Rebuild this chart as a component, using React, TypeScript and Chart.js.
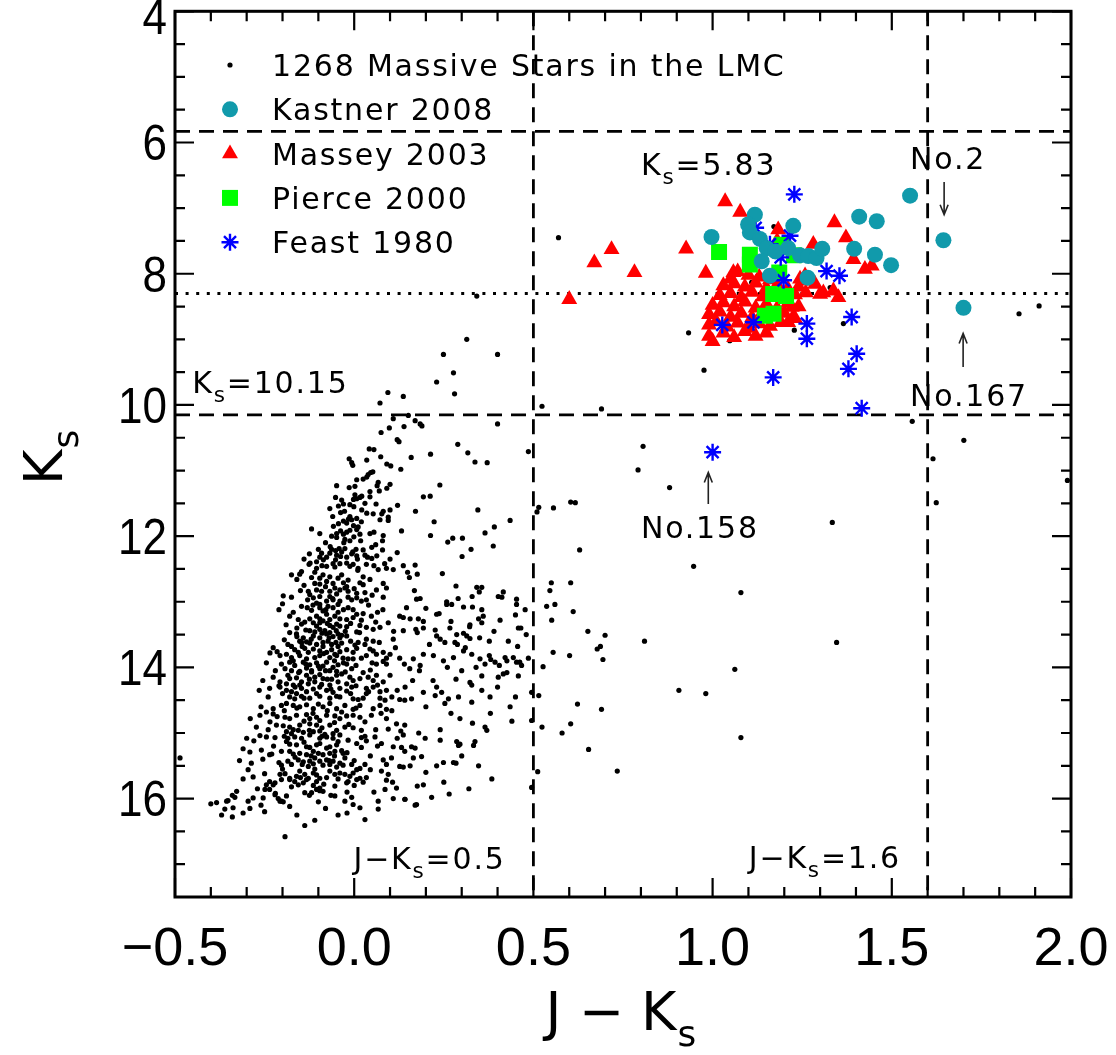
import React, { useEffect, useRef } from 'react';
import { Chart, registerables } from 'chart.js';
import { drawPoint } from 'chart.js/helpers';

Chart.register(...registerables);

// ---------- axes ----------
const X_MIN = -0.5;
const X_MAX = 2.0;
const Y_MIN = 4;
const Y_MAX = 17.5;
const X_TICKS = [-0.5, 0.0, 0.5, 1.0, 1.5, 2.0];
const Y_TICKS = [4, 6, 8, 10, 12, 14, 16];
const X_MINOR_STEP = 0.1;
const Y_MINOR_STEP = 0.5;

// ---------- reference lines ----------
const KS_LIMITS = [5.83, 10.15];
const JK_LIMITS = [0.5, 1.6];
const KS_DOTTED = 8.3;

// ---------- 1268 massive stars (black dots), read region by region ----------
const starsUpper: number[][] = [
  [0.57,7.45],[0.342,8.34],[1.171,7.28],[1.109,8.13],[1.286,8.12],[1.328,8.21],[1.365,8.76],
  [0.933,8.90],[1.048,9.02],[1.228,8.86],[0.976,9.47],[1.855,8.61],[1.911,8.49],
  [0.314,9.0],[0.249,9.23],[0.40,9.23],[0.277,9.51],[0.23,9.65],[0.28,9.83],[0.094,9.81],[0.137,9.87],[0.072,9.97],
  [0.524,10.02],[0.690,10.06],[1.557,10.25],
  [0.151,10.16],[0.109,10.21],[0.17,10.24],[0.184,10.29],[0.189,10.32],[0.139,10.33],[0.098,10.35],[0.075,10.42],[0.40,10.29],
  [0.289,10.60],[0.486,10.71],[0.317,10.73],[0.213,10.75],[0.159,10.80],[0.337,10.87],[0.371,10.88],
  [0.806,10.63],[0.792,10.99],[0.88,11.26],[1.615,10.82],[1.624,11.49],[1.701,10.54],[1.99,11.15],[1.334,11.79],
  [0.239,11.22],[0.193,11.40],[0.212,11.39],[0.171,11.62],[0.223,11.78],[0.345,11.60],[0.435,11.76],
  [0.515,11.56],[0.51,11.63],[0.556,11.57],[0.604,11.48],[0.617,11.49],
  [0.391,11.86],[0.365,11.95],[0.213,11.99],[0.275,12.03],[0.302,12.03],[0.261,12.09],[0.388,12.15],[0.326,12.20],[0.301,12.31],[0.629,12.21],[0.947,12.46],
  [0.17,12.44],[0.154,12.63],[0.149,12.55],[0.176,12.58],[0.246,12.57],[0.284,12.76],[0.342,12.78],[0.356,12.78],[0.349,12.85],[0.416,12.85],[0.402,12.92],[0.412,12.93],[0.453,12.96],
  [0.55,12.71],[0.546,12.83],[0.604,12.71],[1.079,12.86],[0.329,12.92],[0.29,12.95],[0.258,13.0],[0.174,12.96],[0.184,12.95],[0.168,12.83],
];

const starsTip: number[][] = [
  [0.12,10.53],[0.125,10.56],[0.042,10.67],[0.055,10.68],[-0.014,10.82],[-0.007,10.88],[-0.004,10.92],[0.035,10.84],[0.074,10.79],[0.091,10.90],[0.102,10.93],[0.13,10.98],
  [0.039,11.06],[0.046,11.03],[0.052,11.02],[0.035,11.10],[0.007,11.14],[0.025,11.13],[0.067,11.18],[0.064,11.23],[0.10,11.21],[0.091,11.27],[-0.049,11.23],[-0.014,11.26],[0.002,11.24],
  [0.044,11.32],[0.07,11.31],[0.002,11.37],[0.016,11.41],[0.021,11.39],[-0.052,11.41],[0.044,11.40],[-0.002,11.44],[0.007,11.43],[0.03,11.50],[0.061,11.51],[-0.044,11.54],[-0.03,11.51],
  [-0.012,11.52],[-0.001,11.55],[-0.068,11.58],[0.021,11.60],[0.035,11.65],[0.053,11.66],[0.081,11.62],[0.077,11.66],[0.121,11.53],[-0.038,11.64],[-0.027,11.62],[-0.012,11.70],[-0.016,11.74],
  [-0.007,11.75],[0.007,11.73],[0.072,11.75],[0.095,11.71],[0.095,11.76],[-0.03,11.77],[-0.021,11.80],[-0.058,11.85],[-0.044,11.81],[-0.002,11.84],[0.011,11.86],[0.007,11.90],[-0.012,11.91],
  [-0.021,11.94],[-0.038,11.92],[-0.049,11.96],[-0.03,11.97],[-0.119,11.89],[-0.096,11.96],[0.016,11.97],[0.044,11.96],[0.055,11.94],[0.081,11.99],[0.132,11.92],[-0.063,12.0],[-0.049,12.02],
  [-0.026,12.05],[-0.029,12.10],[-0.012,12.07],[-0.001,12.01],[0.018,12.07],[0.079,12.07],[-0.067,12.16],[-0.063,12.20],[-0.052,12.22],[-0.042,12.19],[-0.035,12.24],[-0.026,12.19],[0.005,12.20],
  [-0.004,12.24],[0.025,12.21],[0.049,12.17],[0.079,12.21],[-0.125,12.27],[-0.091,12.26],[-0.096,12.32],[-0.077,12.32],[-0.068,12.26],[-0.049,12.29],[-0.038,12.31],[-0.052,12.36],[-0.021,12.32],
  [-0.007,12.27],[0.007,12.30],[0.009,12.35],[0.03,12.29],[0.037,12.32],[0.049,12.34],[0.063,12.30],[-0.123,12.41],[-0.105,12.39],[-0.086,12.36],[0.137,12.45],
  [-0.147,12.54],[-0.105,12.49],[-0.126,12.43],[-0.077,12.46],[-0.059,12.42],[-0.054,12.47],[-0.040,12.42],[-0.021,12.41],[-0.012,12.46],[-0.003,12.43],[0.011,12.49],[0.034,12.43],[0.055,12.45],
  [0.067,12.51],[0.090,12.49],[0.109,12.51],
  [-0.08,12.10],[-0.10,12.20],[-0.09,12.45],[0.06,12.13],[0.10,12.35],[0.02,11.78],[-0.035,11.45],[0.10,11.60],[-0.06,11.70],[0.01,12.52],[0.085,12.42],[0.12,12.25],[-0.14,12.35],[-0.11,12.55],
];

const starsCore: number[][] = [
  [-0.175,12.59],[-0.152,12.58],[-0.119,12.63],[-0.096,12.64],[-0.087,12.59],[-0.068,12.62],[-0.045,12.64],[-0.035,12.59],[0.025,12.62],[0.044,12.66],[0.081,12.72],[0.09,12.79],[0.062,12.82],
  [-0.021,12.77],[-0.017,12.67],[0.016,12.71],[-0.11,12.72],[-0.096,12.73],[-0.077,12.69],[-0.059,12.72],[-0.054,12.79],[-0.04,12.82],[-0.026,12.79],[-0.017,12.84],[0.007,12.87],[0.025,12.74],
  [-0.128,12.84],[-0.105,12.82],[-0.091,12.84],[-0.068,12.84],[-0.049,12.88],[-0.198,12.91],[-0.175,12.93],[-0.124,12.89],[-0.114,12.94],[-0.096,12.92],[-0.068,12.92],[-0.059,12.97],[-0.04,12.99],
  [-0.017,12.93],[-0.007,12.97],[0.007,12.94],[0.02,12.99],[0.034,12.97],[0.081,12.93],[-0.077,12.99],[-0.105,13.02],[-0.096,13.04],[-0.045,13.04],
  [-0.147,13.07],[-0.131,13.09],[-0.119,13.13],[-0.096,13.09],[-0.087,13.14],[-0.079,13.12],[-0.073,13.07],[-0.059,13.09],[-0.045,13.16],[-0.017,13.09],[-0.003,13.12],[0.007,13.19],[0.025,13.18],
  [0.048,13.22],[0.127,13.22],[0.137,13.24],[0.146,13.09],[-0.18,13.22],[-0.156,13.27],[-0.138,13.31],[-0.124,13.26],[-0.105,13.22],[-0.096,13.26],[-0.077,13.19],[-0.068,13.27],[-0.054,13.22],
  [-0.04,13.26],[-0.021,13.27],[-0.003,13.24],
  [-0.147,13.34],[-0.114,13.32],[-0.105,13.37],[-0.096,13.32],[-0.087,13.29],[-0.068,13.36],[-0.059,13.39],[-0.049,13.34],[-0.04,13.37],[-0.021,13.38],[0.016,13.36],[0.034,13.39],[0.053,13.42],
  [0.072,13.39],[0.095,13.32],[-0.18,13.47],[-0.161,13.49],[-0.124,13.44],[-0.11,13.46],[-0.096,13.42],[-0.082,13.44],[-0.068,13.47],[-0.045,13.49],[-0.035,13.51],[0.007,13.46],[0.137,13.44],
  [-0.142,13.55],[-0.114,13.52],[-0.096,13.55],[-0.077,13.49],[-0.059,13.53],[-0.04,13.55],[-0.021,13.52],[0.034,13.57],[0.053,13.6],[0.109,13.57],[-0.152,13.6],[-0.147,13.62],[-0.133,13.61],
  [-0.124,13.63],[-0.105,13.65],[-0.087,13.62],[-0.073,13.6],[-0.063,13.65],[-0.051,13.62],[-0.035,13.63],[0.002,13.66],[0.011,13.62],[-0.226,13.70],[-0.185,13.65],[-0.175,13.68],
  [-0.166,13.73],[-0.156,13.77],[-0.138,13.71],[-0.128,13.77],[-0.114,13.72],[-0.096,13.75],[-0.087,13.68],[-0.077,13.77],[-0.063,13.73],[-0.054,13.8],[-0.04,13.76],[-0.021,13.73],[-0.003,13.77],
  [0.007,13.71],[0.044,13.72],[0.053,13.75],[0.062,13.8],[0.081,13.77],[0.1,13.8],[-0.207,13.82],[-0.189,13.8],[-0.175,13.85],[-0.152,13.82],[-0.133,13.87],[-0.11,13.85],[-0.096,13.82],
  [-0.068,13.85],[-0.049,13.82],[-0.031,13.86],[-0.017,13.87],[0.034,13.82],[0.127,13.86],
  [-0.203,13.95],[-0.193,14.02],[-0.18,13.92],[-0.166,13.97],[-0.142,13.92],[-0.124,13.96],[-0.105,13.93],[-0.087,13.98],[-0.077,13.92],[-0.059,14.0],[-0.045,13.96],[-0.021,13.95],[-0.007,14.02],
  [-0.003,13.87],[0.062,13.95],[0.081,13.91],[0.09,13.95],[0.155,14.02],[-0.175,14.05],[-0.152,14.06],[-0.133,14.01],[-0.119,14.05],[-0.096,14.02],[-0.068,14.05],[-0.049,14.06],
  [-0.226,14.15],[-0.207,14.22],[-0.18,14.17],[-0.161,14.16],[-0.147,14.22],[-0.133,14.12],[-0.119,14.07],[-0.11,14.15],[-0.096,14.11],[-0.087,14.17],[-0.063,14.18],[-0.049,14.12],[-0.035,14.1],
  [-0.012,14.15],[-0.003,14.2],[0.016,14.17],[0.025,14.08],[0.039,14.15],[0.053,14.2],[0.062,14.12],[0.081,14.22],[-0.189,14.25],[-0.17,14.27],[-0.152,14.27],[-0.128,14.25],[-0.11,14.22],
  [-0.091,14.26],[-0.068,14.27],[-0.045,14.22],[-0.021,14.25],
  [-0.236,14.32],[-0.207,14.30],[-0.189,14.35],[-0.175,14.37],[-0.161,14.4],[-0.147,14.32],[-0.133,14.37],[-0.114,14.33],[-0.096,14.3],[-0.077,14.35],[-0.059,14.38],[-0.04,14.32],[-0.021,14.36],
  [-0.007,14.3],[0.034,14.32],[0.053,14.3],[0.072,14.37],[0.09,14.35],[-0.18,14.45],[-0.166,14.48],[-0.147,14.44],[-0.124,14.47],[-0.096,14.44],[-0.068,14.47],[-0.049,14.44],[-0.003,14.48],
  [0.011,14.49],[0.034,14.4],[0.072,14.47],[0.086,14.5],[0.127,14.49],[0.141,14.5],
  [-0.226,14.63],[-0.203,14.58],[-0.189,14.55],[-0.17,14.58],[-0.152,14.6],[-0.133,14.57],[-0.114,14.63],[-0.087,14.6],[-0.068,14.55],[-0.049,14.63],[-0.026,14.58],[-0.003,14.64],[0.016,14.58],
  [0.053,14.63],[0.072,14.58],[0.09,14.64],
];

// further stars filling the densest part of the main sequence cloud
const starsCoreDense: number[][] = [
  [-0.16,12.66],[-0.14,12.75],[-0.13,12.97],[-0.08,12.77],[-0.03,12.71],[0.0,12.80],[0.05,12.90],[-0.06,12.95],[-0.15,12.83],[0.03,12.86],
  [-0.21,13.12],[-0.19,13.35],[-0.17,13.16],[-0.135,13.43],[-0.115,13.05],[-0.075,13.33],[-0.05,13.44],[-0.03,13.12],[-0.01,13.33],[0.02,13.28],
  [0.04,13.05],[0.06,13.31],[0.08,13.12],[0.11,13.45],[-0.16,13.40],[-0.09,13.48],[-0.025,13.45],[0.015,13.47],[-0.20,13.03],[0.065,13.16],
  [-0.245,13.93],[-0.215,13.76],[-0.195,13.58],[-0.17,13.90],[-0.145,13.68],[-0.12,13.57],[-0.10,13.98],[-0.085,13.79],[-0.07,13.55],[-0.045,13.68],
  [-0.03,13.93],[-0.01,13.60],[0.02,13.86],[0.03,13.65],[0.07,13.62],[0.09,13.86],[0.115,13.70],[0.14,13.95],[-0.135,13.95],[-0.055,13.90],
  [0.005,13.97],[-0.16,13.53],[-0.235,13.78],[0.05,13.93],
  [-0.255,14.20],[-0.24,14.45],[-0.22,14.05],[-0.20,14.40],[-0.185,14.12],[-0.165,14.30],[-0.14,14.47],[-0.125,14.18],[-0.105,14.40],[-0.08,14.05],
  [-0.065,14.33],[-0.04,14.45],[-0.025,14.07],[-0.01,14.40],[0.005,14.28],[0.025,14.47],[0.045,14.04],[0.065,14.27],[0.10,14.12],[0.12,14.35],
  [0.105,14.45],[-0.155,14.08],[-0.075,14.18],[0.04,14.37],[-0.265,14.35],[-0.21,14.28],
  [-0.29,14.78],[-0.26,14.60],[-0.24,14.95],[-0.215,14.75],[-0.195,14.66],[-0.17,14.95],[-0.16,14.62],[-0.14,14.82],[-0.115,14.70],[-0.09,14.92],
  [-0.075,14.66],[-0.055,14.84],[-0.035,14.68],[-0.015,14.87],[0.005,14.62],[0.03,14.83],[0.06,14.95],[0.075,14.70],[0.105,14.66],[0.13,14.97],
  [-0.125,14.96],[-0.235,14.83],[0.02,14.96],[-0.10,14.56],
  [-0.32,15.42],[-0.28,15.12],[-0.255,15.40],[-0.225,15.20],[-0.21,15.45],[-0.195,15.05],[-0.165,15.37],[-0.14,15.14],[-0.12,15.35],[-0.09,15.05],
  [-0.07,15.42],[-0.045,15.13],[-0.02,15.30],[0.0,15.42],[0.02,15.22],[0.045,15.35],[0.065,15.20],[0.09,15.48],[0.12,15.08],[-0.23,15.32],
  [-0.145,15.48],[-0.055,15.35],[0.03,15.05],[-0.30,15.08],
  [-0.31,15.70],[-0.27,15.85],[-0.25,15.62],[-0.22,15.92],[-0.20,15.55],[-0.175,15.82],[-0.15,15.68],[-0.125,15.95],[-0.11,15.55],[-0.085,15.78],
  [-0.065,15.95],[-0.045,15.70],[-0.02,15.90],[0.0,15.80],[0.045,15.56],[0.055,15.90],[0.09,15.72],[-0.26,16.10],[-0.18,16.12],[-0.10,16.05],[-0.34,15.95],
  [-0.31,16.22],[-0.25,16.20],[-0.16,16.25],[-0.08,16.15],[-0.02,16.22],[0.03,16.32],[-0.40,16.08],[-0.37,16.25],
];

const starsBase: number[][] = [
  [-0.263,14.73],[-0.245,14.68],[-0.226,14.71],[-0.193,14.76],[-0.18,14.78],[-0.161,14.73],[-0.133,14.72],[-0.124,14.78],[-0.105,14.76],[-0.096,14.81],[-0.077,14.73],[-0.054,14.74],[-0.04,14.78],
  [-0.021,14.74],[-0.003,14.73],[0.016,14.76],[0.048,14.73],[0.09,14.78],[0.118,14.86],[0.141,14.88],[-0.217,14.88],[-0.198,14.89],[-0.273,14.91],[-0.18,14.91],[-0.152,14.88],[-0.124,14.86],
  [-0.105,14.88],[-0.068,14.88],[-0.026,14.91],[-0.003,14.92],[0.095,14.94],
  [-0.189,14.98],[-0.175,15.01],[-0.156,14.96],[-0.142,14.99],[-0.124,15.03],[-0.114,14.98],[-0.096,14.97],[-0.082,15.02],[-0.059,15.01],[-0.04,15.03],[-0.049,14.96],[-0.263,15.04],[-0.245,15.06],
  [-0.221,15.07],[-0.185,15.08],[-0.166,15.06],[-0.147,15.08],[-0.096,15.08],[-0.077,15.06],[-0.059,15.08],[-0.017,15.11],[0.007,15.16],[0.02,15.07],[0.034,15.12],[0.058,15.06],[0.076,15.16],
  [0.109,15.21],[0.132,15.22],[0.137,15.03],
  [-0.189,15.13],[-0.18,15.17],[-0.161,15.18],[-0.133,15.21],[-0.124,15.22],[-0.105,15.18],[-0.096,15.16],[-0.077,15.23],[-0.068,15.21],[-0.049,15.18],[-0.035,15.27],[-0.31,15.24],[-0.291,15.29],
  [-0.259,15.26],[-0.236,15.33],[-0.203,15.28],[-0.18,15.28],[-0.17,15.32],[-0.152,15.31],[-0.133,15.33],[-0.114,15.28],[-0.1,15.31],[-0.087,15.33],[-0.068,15.31],[-0.054,15.28],[-0.031,15.31],
  [0.141,15.28],
  [-0.287,15.46],[-0.203,15.49],[-0.185,15.43],[-0.175,15.48],[-0.156,15.41],[-0.142,15.44],[-0.124,15.43],[-0.11,15.38],[-0.096,15.43],[-0.077,15.41],[-0.059,15.43],[-0.04,15.46],[-0.026,15.38],
  [-0.007,15.48],[0.007,15.56],[0.016,15.54],[0.03,15.48],[0.081,15.41],[0.104,15.38],[0.127,15.51],[0.137,15.52],[-0.128,15.51],[-0.114,15.47],[-0.087,15.49],[-0.068,15.48],[-0.049,15.52],
  [-0.031,15.49],
  [-0.296,15.56],[-0.282,15.67],[-0.207,15.63],[-0.193,15.62],[-0.18,15.69],[-0.161,15.66],[-0.152,15.58],[-0.138,15.63],[-0.128,15.69],[-0.114,15.61],[-0.105,15.64],[-0.096,15.69],[-0.077,15.68],
  [-0.068,15.58],[-0.054,15.63],[-0.04,15.61],[-0.026,15.63],[-0.012,15.66],[-0.003,15.61],[0.007,15.71],[0.016,15.69],[0.034,15.68],[0.076,15.58],[0.095,15.63],[-0.236,15.74],[-0.221,15.76],
  [-0.245,15.79],[-0.236,15.86],[-0.226,15.79],[-0.203,15.71],[-0.18,15.71],[-0.166,15.74],[-0.156,15.79],[-0.142,15.76],[-0.133,15.71],[-0.114,15.80],[-0.105,15.74],[-0.096,15.84],[-0.087,15.89],
  [-0.054,15.81],[-0.021,15.76],[-0.017,15.74],[0.025,15.75],[0.107,15.75],[0.118,15.84],[-0.328,15.89],[-0.249,15.86],
  [-0.333,15.98],[-0.352,16.03],[-0.356,16.04],[-0.296,16.04],[-0.282,15.99],[-0.254,15.99],[-0.221,15.94],[-0.212,16.0],[-0.203,16.04],[-0.189,15.96],[-0.138,15.91],[-0.119,15.91],[-0.105,15.86],
  [-0.096,15.88],[-0.054,15.96],[-0.026,16.04],[-0.007,15.98],[-0.003,16.09],[0.016,16.14],[0.067,16.04],[0.086,15.86],[0.109,16.0],[0.141,16.01],[-0.361,16.16],[-0.338,16.14],[-0.291,16.15],
  [-0.207,16.04],[-0.198,16.05],[-0.34,16.28],[0.067,16.16],[-0.045,16.25],[-0.138,16.41],[-0.11,16.33],[-0.193,16.58],
  [-0.486,15.38],[-0.384,16.06],
];

const starsPlume: number[][] = [
  [0.156,13.26],[0.179,13.26],[0.193,13.30],[0.172,13.42],[0.176,13.47],[0.193,13.40],[0.23,13.19],[0.237,13.18],[0.258,13.04],[0.272,13.04],[0.305,13.08],[0.33,13.08],[0.356,13.12],
  [0.36,13.22],[0.305,13.48],[0.286,13.50],[0.23,13.52],[0.226,13.43],[0.267,13.40],[0.24,13.57],[0.253,13.62],[0.281,13.62],[0.288,13.65],[0.314,13.52],[0.323,13.56],[0.323,13.35],
  [0.322,13.38],[0.347,13.26],[0.356,13.32],[0.407,13.28],[0.453,13.04],[0.477,13.12],[0.458,13.40],[0.465,13.40],[0.456,13.68],[0.377,13.60],[0.305,13.75],[0.328,13.80],[0.277,13.85],
  [0.351,13.87],[0.377,13.82],[0.381,13.88],[0.365,13.95],[0.393,13.92],[0.421,13.85],[0.426,13.90],[0.444,13.85],[0.453,13.92],[0.467,13.97],[0.462,13.92],[0.486,13.86],[0.405,13.97],
  [0.416,14.10],[0.426,14.08],[0.458,14.13],[0.402,14.15],[0.356,14.13],[0.323,14.23],[0.328,14.27],[0.284,14.18],[0.249,13.90],[0.221,13.82],[0.193,13.80],[0.184,13.97],[0.182,14.05],
  [0.165,13.87],[0.163,14.20],[0.142,14.30],[0.16,14.48],[0.193,14.38],[0.23,14.30],[0.226,14.43],[0.244,14.38],[0.253,14.55],[0.263,14.48],[0.295,14.78],[0.291,14.45],[0.328,14.53],
  [0.356,14.35],[0.379,14.45],[0.435,14.60],[0.44,14.82],[0.495,14.38],[0.495,14.81],[0.365,14.91],[0.37,14.96],[0.286,15.13],[0.295,15.17],[0.291,15.19],[0.337,15.13],[0.333,15.19],
  [0.24,15.11],[0.198,15.08],[0.16,15.21],[0.17,15.23],[0.165,15.38],[0.188,15.36],[0.23,15.50],[0.249,15.45],[0.277,15.45],[0.284,15.46],[0.347,15.50],[0.384,15.70],[0.265,15.93],
  [0.216,15.98],[0.193,15.79],[0.176,15.81],[0.142,16.01],[0.17,16.10],[0.174,16.09],[0.156,15.50],
  [0.20,13.10],[0.27,13.30],[0.31,13.70],[0.35,13.55],[0.39,13.45],[0.43,13.60],[0.21,13.65],[0.26,14.00],[0.30,14.05],[0.34,14.00],[0.22,14.20],[0.20,14.60],[0.27,14.70],
  [0.33,14.85],[0.40,14.30],[0.45,14.45],[0.38,14.70],[0.24,14.95],[0.18,15.00],[0.30,15.35],[0.20,15.60],[0.25,15.75],[0.32,15.85],[0.45,13.20],[0.48,13.50],
];

const starsRight: number[][] = [
  [0.537,13.07],[0.56,13.04],[0.611,13.15],[0.551,13.28],[0.652,13.45],[0.70,13.51],[0.81,13.60],[0.678,13.72],[0.687,13.68],[0.694,13.88],[0.601,13.82],[0.555,13.77],[0.527,13.99],
  [1.346,13.62],[1.062,14.03],[0.906,14.35],[0.981,14.40],[0.515,14.43],[0.623,14.56],[0.69,14.64],[0.524,14.91],[0.604,14.86],[0.58,15.0],[1.079,15.07],[0.654,15.25],[0.512,15.59],
  [0.734,15.58],[0.495,15.83],
];

const massiveStars = [...starsUpper, ...starsTip, ...starsCore, ...starsCoreDense, ...starsBase, ...starsPlume, ...starsRight];

// ---------- catalogue matches ----------
const kastner2008: number[][] = [
  [0.997,7.44],[1.118,7.10],[1.099,7.25],[1.104,7.37],[1.132,7.47],[1.151,7.61],[1.137,7.81],[1.16,8.03],[1.225,7.27],[1.211,7.61],[1.244,7.72],[1.267,7.73],
  [1.29,7.76],[1.306,7.62],[1.265,8.06],[1.409,7.13],[1.458,7.20],[1.395,7.62],[1.453,7.71],[1.498,7.87],[1.551,6.81],[1.644,7.49],[1.70,8.52],[1.175,7.66],
];

const massey2003: number[][] = [
  [0.60,8.39],[0.670,7.83],[0.718,7.63],[0.782,7.98],[0.926,7.62],[0.981,7.99],[1.035,6.90],[1.077,7.06],[1.340,7.22],[1.372,7.45],[1.281,7.55],[1.393,7.78],
  [1.425,7.93],[1.444,7.88],[1.183,7.33],[1.18,7.50],[1.058,7.98],[1.258,8.03],[1.244,8.08],[1.309,8.29],[1.337,8.26],[1.351,8.36],[1.286,8.16],[1.262,8.11],
  [1.221,8.51],[1.225,8.66],[1.211,8.74],[1.30,8.31],
  [1.07,7.97],[1.10,8.02],[1.13,8.05],[1.05,8.08],[1.16,8.09],
  [1.03,8.18],[1.06,8.15],[1.09,8.20],[1.12,8.14],[1.15,8.22],[1.18,8.17],[1.21,8.23],[1.24,8.20],
  [1.02,8.33],[1.05,8.30],[1.08,8.36],[1.11,8.28],[1.14,8.35],[1.17,8.30],[1.20,8.37],[1.23,8.32],[1.26,8.29],
  [1.00,8.48],[1.03,8.44],[1.06,8.50],[1.09,8.43],[1.12,8.52],[1.15,8.46],[1.18,8.53],[1.21,8.45],[1.24,8.50],
  [0.99,8.62],[1.02,8.58],[1.05,8.66],[1.08,8.60],[1.11,8.67],[1.14,8.58],[1.17,8.64],[1.20,8.60],[1.23,8.68],
  [0.99,8.78],[1.01,8.73],[1.04,8.81],[1.07,8.75],[1.10,8.83],[1.13,8.76],[1.16,8.80],[1.19,8.74],
  [0.99,8.95],[1.00,9.03],[1.03,8.90],[1.06,8.97],[1.09,8.88],[1.12,8.95],[1.15,8.90],
];

const pierce2000: number[][] = [
  [1.018,7.67],[1.104,7.71],[1.104,7.86],[1.193,7.56],[1.227,7.72],[1.186,7.98],[1.169,8.31],[1.205,8.34],[1.146,8.64],[1.170,8.61],
];

const feast1980: number[][] = [
  [1.228,6.79],[1.216,7.42],[1.12,7.30],[1.16,7.55],[1.19,7.75],[1.318,7.96],[1.354,8.03],[1.198,8.10],[1.027,8.78],[1.114,8.74],[1.263,8.76],[1.263,8.99],
  [1.388,8.66],[1.402,9.22],[1.379,9.45],[1.169,9.58],[1.416,10.05],[1.0,10.72],
];

// ---------- styling ----------
const COL_STARS = '#000000';
const COL_KASTNER = '#119aab';
const COL_MASSEY = '#ff0000';
const COL_PIERCE = '#00ff00';
const COL_FEAST = '#0000ff';

const LEGEND = [
  { label: '1268 Massive Stars in the LMC', style: 'circle', radius: 2.6, fill: COL_STARS, stroke: COL_STARS, bw: 0 },
  { label: 'Kastner 2008', style: 'circle', radius: 8, fill: COL_KASTNER, stroke: COL_KASTNER, bw: 0 },
  { label: 'Massey 2003', style: 'triangle', radius: 9.2, fill: COL_MASSEY, stroke: COL_MASSEY, bw: 0 },
  { label: 'Pierce 2000', style: 'rect', radius: 11.3, fill: COL_PIERCE, stroke: COL_PIERCE, bw: 0 },
  { label: 'Feast 1980', style: 'star', radius: 8.5, fill: COL_FEAST, stroke: COL_FEAST, bw: 2.4 },
];

type Part = { t: string; sub?: boolean };
const ANNOTATIONS: { parts: Part[]; x: number; y: number }[] = [
  { parts: [{ t: 'K' }, { t: 's', sub: true }, { t: '=5.83' }], x: 0.80, y: 6.33 },
  { parts: [{ t: 'No.2' }], x: 1.551, y: 6.23 },
  { parts: [{ t: 'K' }, { t: 's', sub: true }, { t: '=10.15' }], x: -0.452, y: 9.65 },
  { parts: [{ t: 'No.167' }], x: 1.551, y: 9.85 },
  { parts: [{ t: 'No.158' }], x: 0.80, y: 11.86 },
  { parts: [{ t: 'J\u2212K' }, { t: 's', sub: true }, { t: '=0.5' }], x: -0.002, y: 16.91 },
  { parts: [{ t: 'J\u2212K' }, { t: 's', sub: true }, { t: '=1.6' }], x: 1.101, y: 16.89 },
];

// arrows: x, from Ks, to Ks (head at "to")
const ARROWS = [
  { x: 1.646, from: 6.60, to: 7.10 },
  { x: 1.699, from: 9.42, to: 8.91 },
  { x: 0.988, from: 11.51, to: 11.03 },
];

const TEXT_FONT = '"DejaVu Sans", sans-serif';
const TICK_FONT = '"Liberation Sans", sans-serif';

function drawRich(ctx: CanvasRenderingContext2D, parts: Part[], x: number, yCenter: number, size: number, spacing: number) {
  const cap = size * 0.729;
  const base = yCenter + cap / 2;
  let cx = x;
  ctx.textAlign = 'left';
  ctx.textBaseline = 'alphabetic';
  for (const p of parts) {
    const fs = p.sub ? size * 0.72 : size;
    ctx.font = `${fs}px ${TEXT_FONT}`;
    (ctx as any).letterSpacing = `${spacing}px`;
    ctx.fillText(p.t, cx, base + (p.sub ? size * 0.3 : 0));
    cx += ctx.measureText(p.t).width;
  }
  (ctx as any).letterSpacing = '0px';
}

const overlayPlugin = {
  id: 'overlay',
  beforeDatasetsDraw(chart: any) {
    const { ctx, chartArea: a, scales } = chart;
    const xs = scales.x, ys = scales.y;
    ctx.save();
    ctx.strokeStyle = '#000';
    ctx.lineWidth = 2.8;
    ctx.setLineDash([15, 9]);
    for (const v of KS_LIMITS) {
      const py = ys.getPixelForValue(v);
      ctx.beginPath(); ctx.moveTo(a.left, py); ctx.lineTo(a.right, py); ctx.stroke();
    }
    for (const v of JK_LIMITS) {
      const px = xs.getPixelForValue(v);
      ctx.beginPath(); ctx.moveTo(px, a.top); ctx.lineTo(px, a.bottom); ctx.stroke();
    }
    ctx.lineWidth = 3;
    ctx.setLineDash([3, 7.6]);
    const pd = ys.getPixelForValue(KS_DOTTED);
    ctx.beginPath(); ctx.moveTo(a.left, pd); ctx.lineTo(a.right, pd); ctx.stroke();
    ctx.restore();
  },
  afterDatasetsDraw(chart: any) {
    const { ctx, chartArea: a, scales } = chart;
    const xs = scales.x, ys = scales.y;
    ctx.save();
    ctx.setLineDash([]);
    ctx.strokeStyle = '#000';
    ctx.fillStyle = '#000';

    // ticks (inward, all four sides)
    ctx.lineWidth = 2.2;
    const nX = Math.round((X_MAX - X_MIN) / X_MINOR_STEP);
    for (let i = 0; i <= nX; i++) {
      const v = X_MIN + i * X_MINOR_STEP;
      const major = X_TICKS.some((t) => Math.abs(t - v) < 1e-6);
      const len = major ? 19 : 10;
      const px = xs.getPixelForValue(v);
      ctx.beginPath();
      ctx.moveTo(px, a.bottom); ctx.lineTo(px, a.bottom - len);
      ctx.moveTo(px, a.top); ctx.lineTo(px, a.top + len);
      ctx.stroke();
    }
    const nY = Math.round((Y_MAX - Y_MIN) / Y_MINOR_STEP);
    for (let i = 0; i <= nY; i++) {
      const v = Y_MIN + i * Y_MINOR_STEP;
      const major = Y_TICKS.some((t) => Math.abs(t - v) < 1e-6);
      const len = major ? 19 : 10;
      const py = ys.getPixelForValue(v);
      ctx.beginPath();
      ctx.moveTo(a.left, py); ctx.lineTo(a.left + len, py);
      ctx.moveTo(a.right, py); ctx.lineTo(a.right - len, py);
      ctx.stroke();
    }
    // frame
    ctx.lineWidth = 3;
    ctx.strokeRect(a.left, a.top, a.right - a.left, a.bottom - a.top);

    // y tick labels (right-aligned, slightly condensed, kept inside the canvas at the top)
    ctx.fillStyle = '#000';
    ctx.font = `50px ${TICK_FONT}`;
    ctx.textAlign = 'right';
    ctx.textBaseline = 'middle';
    for (const v of ys.ticks.map((t: any) => t.value)) {
      const py = Math.max(ys.getPixelForValue(v) + 4, 20);
      ctx.save();
      ctx.translate(a.left - 8, py);
      ctx.scale(0.88, 1);
      ctx.fillText(String(v), 0, 0);
      ctx.restore();
    }

    // annotations
    for (const an of ANNOTATIONS) {
      drawRich(ctx, an.parts, xs.getPixelForValue(an.x), ys.getPixelForValue(an.y), 30, 1.8);
    }
    // arrows
    ctx.strokeStyle = '#222';
    ctx.lineWidth = 1.6;
    for (const ar of ARROWS) {
      const px = xs.getPixelForValue(ar.x);
      const p0 = ys.getPixelForValue(ar.from);
      const p1 = ys.getPixelForValue(ar.to);
      const dir = p1 > p0 ? 1 : -1;
      ctx.beginPath();
      ctx.moveTo(px, p0); ctx.lineTo(px, p1);
      ctx.moveTo(px - 4, p1 - dir * 10); ctx.lineTo(px, p1); ctx.lineTo(px + 4, p1 - dir * 10);
      ctx.stroke();
    }

    // legend
    const mx = a.left + 55;
    const tx = a.left + 97;
    LEGEND.forEach((it, i) => {
      const cy = a.top + 53.7 + i * 44.3;
      ctx.fillStyle = it.fill;
      ctx.strokeStyle = it.stroke;
      ctx.lineWidth = it.bw;
      drawPoint(ctx, { pointStyle: it.style as any, radius: it.radius, rotation: 0, borderWidth: it.bw }, mx, cy);
      ctx.fillStyle = '#000';
      drawRich(ctx, [{ t: it.label }], tx, cy, 30, 1.8);
    });

    // axis titles
    ctx.fillStyle = '#000';
    ctx.textBaseline = 'alphabetic';
    ctx.textAlign = 'left';
    // x title: J − K_s
    ctx.font = `54px ${TEXT_FONT}`;
    const xt = 'J \u2212 K';
    const wx = ctx.measureText(xt).width;
    const cxT = (a.left + a.right) / 2 - 12;
    ctx.fillText(xt, cxT - wx / 2, 1030);
    ctx.font = `36px ${TEXT_FONT}`;
    ctx.fillText('s', cxT + wx / 2 + 1, 1046);
    // y title: K_s rotated
    ctx.save();
    ctx.translate(62, 485);
    ctx.rotate(-Math.PI / 2);
    ctx.font = `54px ${TEXT_FONT}`;
    ctx.fillText('K', 0, 0);
    const wk = ctx.measureText('K').width;
    ctx.font = `36px ${TEXT_FONT}`;
    ctx.fillText('s', wk + 1, 16);
    ctx.restore();

    ctx.restore();
  },
};

export default function App() {
  const ref = useRef<HTMLCanvasElement | null>(null);
  useEffect(() => {
    if (!ref.current) return;
    const toXY = (arr: number[][]) => arr.map(([x, y]) => ({ x, y }));
    const chart = new Chart(ref.current, {
      type: 'scatter',
      data: {
        datasets: [
          { label: 'Kastner 2008', data: toXY(kastner2008), pointStyle: 'circle', pointRadius: 8, backgroundColor: COL_KASTNER, borderColor: COL_KASTNER, borderWidth: 0, order: 0 },
          { label: 'Feast 1980', data: toXY(feast1980), pointStyle: 'star', pointRadius: 8.5, backgroundColor: COL_FEAST, borderColor: COL_FEAST, borderWidth: 2.4, order: 1 },
          { label: 'Pierce 2000', data: toXY(pierce2000), pointStyle: 'rect', pointRadius: 11.3, backgroundColor: COL_PIERCE, borderColor: COL_PIERCE, borderWidth: 0, order: 2 },
          { label: 'Massey 2003', data: toXY(massey2003), pointStyle: 'triangle', pointRadius: 9.2, backgroundColor: COL_MASSEY, borderColor: COL_MASSEY, borderWidth: 0, order: 3 },
          { label: '1268 Massive Stars in the LMC', data: toXY(massiveStars), pointStyle: 'circle', pointRadius: 2.6, backgroundColor: COL_STARS, borderColor: COL_STARS, borderWidth: 0, order: 4 },
        ] as any,
      },
      options: {
        responsive: false,
        animation: false,
        layout: { padding: { left: 0, right: 45, top: 3, bottom: 0 } },
        plugins: { legend: { display: false }, tooltip: { enabled: false } },
        scales: {
          x: {
            type: 'linear', min: X_MIN, max: X_MAX,
            grid: { display: false, drawTicks: false },
            border: { display: false },
            afterBuildTicks: (s: any) => { s.ticks = X_TICKS.map((v) => ({ value: v })); },
            afterFit: (s: any) => { s.height = 158; s.paddingLeft = 0; s.paddingRight = 0; s.paddingTop = 0; s.paddingBottom = 0; },
            ticks: {
              autoSkip: false, maxRotation: 0, padding: 21, color: '#000',
              font: { family: TICK_FONT, size: 54 },
              callback: (v: any) => (Number(v) < 0 ? '\u2212' : '') + Math.abs(Number(v)).toFixed(1),
            },
          },
          y: {
            type: 'linear', min: Y_MIN, max: Y_MAX, reverse: true,
            grid: { display: false, drawTicks: false },
            border: { display: false },
            afterBuildTicks: (s: any) => { s.ticks = Y_TICKS.map((v) => ({ value: v })); },
            afterFit: (s: any) => { s.width = 175; s.paddingLeft = 0; s.paddingRight = 0; s.paddingTop = 0; s.paddingBottom = 0; },
            ticks: { display: false },
          },
        },
      } as any,
      plugins: [overlayPlugin],
    });
    return () => chart.destroy();
  }, []);
  return (
    <div style={{ position: 'absolute', left: 0, top: 0, width: 1116, height: 1055, background: '#fff' }}>
      <canvas ref={ref} width={1116} height={1055} style={{ display: 'block', width: 1116, height: 1055 }} />
    </div>
  );
}
